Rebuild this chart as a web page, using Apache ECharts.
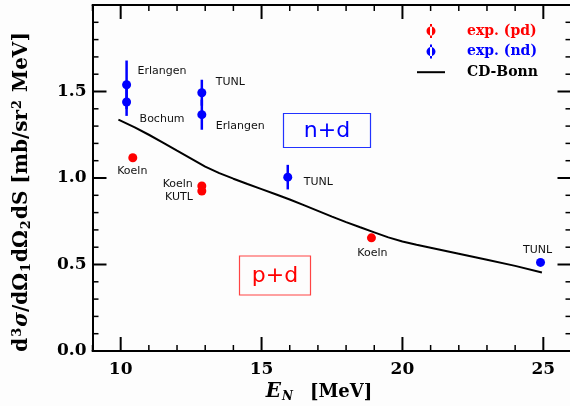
<!DOCTYPE html>
<html><head><meta charset="utf-8">
<script src="https://cdn.jsdelivr.net/npm/echarts@6/dist/echarts.min.js"></script>
<style>html,body{margin:0;padding:0;background:#fdfdfd}#c{width:570px;height:406px}</style>
</head><body><div id="c"></div>
<script>
// ---- data ----
const pdEnergy = [10.43, 12.88, 12.88, 18.90];
const pdXS     = [1.117, 0.954, 0.925, 0.654];
const pdLabels = ['Koeln', 'Koeln', 'KUTL', 'Koeln'];

const ndEnergy = [10.21, 10.21, 12.88, 12.88, 15.93, 24.90];
const ndXS     = [1.539, 1.439, 1.493, 1.366, 1.005, 0.512];
const ndErr    = [0.140, 0.080, 0.075, 0.087, 0.071, 0.0];
const ndLabels = ['Erlangen', 'Bochum', 'TUNL', 'Erlangen', 'TUNL', 'TUNL'];

const cdBonnEnergy = [9.92, 10.5, 11, 11.5, 12, 12.5, 13, 13.5, 14, 14.5, 15, 15.5, 16, 16.5, 17, 17.5, 18, 18.5, 19, 19.5, 20, 20.5, 21, 22, 23, 24, 24.95];
const cdBonnXS     = [1.337, 1.293, 1.250, 1.205, 1.158, 1.112, 1.066, 1.028, 0.996, 0.965, 0.936, 0.906, 0.876, 0.843, 0.810, 0.777, 0.745, 0.715, 0.686, 0.657, 0.633, 0.614, 0.597, 0.562, 0.527, 0.492, 0.454];

// ---- ticks ----
const xTickValues  = [9, 10, 11, 12, 13, 14, 15, 16, 17, 18, 19, 20, 21, 22, 23, 24, 25, 26];
const xMajorTicks  = [10, 15, 20, 25];
const yTickValues  = [0, 0.1, 0.2, 0.3, 0.4, 0.5, 0.6, 0.7, 0.8, 0.9, 1.0, 1.1, 1.2, 1.3, 1.4, 1.5, 1.6, 1.7, 1.8, 1.9, 2.0];
const yMajorTicks  = [0, 0.5, 1.0, 1.5, 2.0];
const yTickLabels  = ['0.0', '0.5', '1.0', '1.5'];
const legendNames  = ['exp. (pd)', 'exp. (nd)', 'CD-Bonn'];

const X_MIN = 9, X_MAX = 26, Y_MIN = 0, Y_MAX = 2;

// ---- label placement (style, not data) ----
const pdLabelPlace = [
  {align:'center', offset:[-0.5, 13.5]},
  {align:'right',  offset:[-9, -2]},
  {align:'right',  offset:[-9, 6.5]},
  {align:'center', offset:[1, 15.5]}
];
const ndLabelPlace = [
  {align:'left',   offset:[11, -14]},
  {align:'left',   offset:[13, 17]},
  {align:'left',   offset:[14, -11]},
  {align:'left',   offset:[14, 11]},
  {align:'left',   offset:[16, 5]},
  {align:'center', offset:[-3, -12]}
];

const RED = '#ff0000', BLUE = '#0000ff';
const labelFont = {fontFamily:'DejaVu Sans', fontSize:11, color:'#111'};
const serif = 'DejaVu Serif';
const MAJOR_LEN = 14, MINOR_LEN = 6;

function pointData(xs, ys, labels, place) {
  return xs.map((x, i) => ({
    value: [x, ys[i]],
    label: Object.assign({show:true, position:'inside', verticalAlign:'middle', formatter: labels[i]}, labelFont, place[i])
  }));
}

const tickLabelStyle = {fontFamily:serif, fontWeight:'bold', fontSize:17, color:'#000'};
function axisLine() { return {show:true, onZero:false, lineStyle:{color:'#000', width:2}}; }
const near = (a, b) => Math.abs(a - b) < 1e-6;
const isMajor = (list, v) => list.some(t => near(t, v)) ? 1 : 0;

function xAxis(pos, withLabels) {
  return {type:'value', position:pos, min:X_MIN, max:X_MAX, interval:1,
    axisLine:axisLine(), axisTick:{show:false}, minorTick:{show:false},
    axisLabel: withLabels ? Object.assign({show:true, margin:10, showMaxLabel:false, showMinLabel:false,
      formatter: v => isMajor(xMajorTicks, v) ? String(v) : ''}, tickLabelStyle) : {show:false},
    splitLine:{show:false}};
}
function yAxis(pos, withLabels) {
  return {type:'value', position:pos, min:Y_MIN, max:Y_MAX, interval:0.5,
    axisLine:axisLine(), axisTick:{show:false}, minorTick:{show:false},
    axisLabel: withLabels ? Object.assign({show:true, margin:6,
      formatter: v => { const i = yMajorTicks.findIndex(t => near(t, v)); return i >= 0 && i < yTickLabels.length ? yTickLabels[i] : ''; }}, tickLabelStyle) : {show:false},
    splitLine:{show:false}, minorSplitLine:{show:false}};
}

const errIcon = 'path://M3.5,0L5.5,0L5.5,14L3.5,14ZM0,7A4.5,4.5,0,1,0,9,7A4.5,4.5,0,1,0,0,7Z';
const lineIcon = 'path://M0,0L28,0L28,2L0,2Z';

const annotations = [
  {type:'rect', x:283.5, y:113.5, shape:{x:0, y:0, width:87, height:34}, style:{fill:'none', stroke:'#2233ff', lineWidth:1.2}},
  {type:'text', x:327, y:131, style:{text:'n+d', fill:BLUE, fontFamily:'DejaVu Sans', fontSize:22, align:'center', verticalAlign:'middle'}},
  {type:'rect', x:239.5, y:256, shape:{x:0, y:0, width:71, height:39}, style:{fill:'none', stroke:'#ff4444', lineWidth:1.2}},
  {type:'text', x:275, y:276, style:{text:'p+d', fill:RED, fontFamily:'DejaVu Sans', fontSize:22, align:'center', verticalAlign:'middle'}},
  {type:'text', x:22, y:192, rotation:Math.PI/2,
   style:{text:'d{sup|3}{i|σ}/dΩ{sub|1}dΩ{sub|2}dS [mb/sr{sup|2} MeV]', fill:'#000', fontFamily:serif, fontWeight:'bold', fontSize:20,
     align:'center', verticalAlign:'middle',
     rich:{
       i:{fontFamily:serif, fontWeight:'bold', fontStyle:'italic', fontSize:20},
       sup:{fontFamily:serif, fontWeight:'bold', fontSize:13, padding:[0,1,9,1]},
       sub:{fontFamily:serif, fontWeight:'bold', fontSize:13, padding:[9,1,0,1]}
     }}},
  {type:'text', x:319, y:392,
   style:{text:'{e|E}{n|N}{g| }[MeV]', fill:'#000', fontFamily:serif, fontWeight:'bold', fontSize:18,
     align:'center', verticalAlign:'middle',
     rich:{e:{fontFamily:serif, fontWeight:'bold', fontStyle:'italic', fontSize:20},
           n:{fontFamily:serif, fontWeight:'bold', fontStyle:'italic', fontSize:12, padding:[10,0,0,1]},
           g:{fontSize:18, padding:[0,6,0,6]}}}}
];

const chart = echarts.init(document.getElementById('c'), null, {renderer:'canvas'});
chart.setOption({
  backgroundColor:'#fdfdfd',
  animation:false,
  grid:{left:92.5, top:5, width:479, height:346, containLabel:false, outerBoundsMode:'none'},
  xAxis: [xAxis('bottom', true), xAxis('top', false)],
  yAxis: [yAxis('left', true), yAxis('right', false)],
  legend:{
    orient:'vertical', left:417, top:24, padding:0, itemWidth:28, itemHeight:14, itemGap:6.6, selectedMode:false,
    data:[
      {name:legendNames[0], icon:errIcon, textStyle:{color:RED}},
      {name:legendNames[1], icon:errIcon, textStyle:{color:BLUE}},
      {name:legendNames[2], icon:lineIcon, textStyle:{color:'#000'}}
    ],
    textStyle:{fontFamily:serif, fontWeight:'bold', fontSize:14, padding:[0,0,0,17]}
  },
  series:[
    {name:legendNames[2], type:'line', xAxisIndex:0, yAxisIndex:0, symbol:'none', smooth:false,
     lineStyle:{color:'#000', width:2}, itemStyle:{color:'#000'},
     data: cdBonnEnergy.map((e, i) => [e, cdBonnXS[i]]), z:1},
    {type:'custom', xAxisIndex:0, yAxisIndex:0, silent:true, z:2,
     data: ndEnergy.map((e, i) => [e, ndXS[i] - ndErr[i], ndXS[i] + ndErr[i]]).filter(d => d[2] > d[1]),
     encode:{x:0, y:[1, 2]},
     renderItem:(params, api) => {
       const lo = api.coord([api.value(0), api.value(1)]);
       const hi = api.coord([api.value(0), api.value(2)]);
       return {type:'line', shape:{x1:lo[0], y1:lo[1], x2:hi[0], y2:hi[1]}, style:{stroke:BLUE, lineWidth:2.5}};
     }},
    {name:legendNames[0], type:'scatter', xAxisIndex:0, yAxisIndex:0, symbol:'circle', symbolSize:9, z:3,
     itemStyle:{color:RED, opacity:1},
     data: pointData(pdEnergy, pdXS, pdLabels, pdLabelPlace)},
    {name:legendNames[1], type:'scatter', xAxisIndex:0, yAxisIndex:0, symbol:'circle', symbolSize:9, z:3,
     itemStyle:{color:BLUE, opacity:1},
     data: pointData(ndEnergy, ndXS, ndLabels, ndLabelPlace)}
  ]
});

// inward tick marks on all four sides, positioned with the axes' own scales (convertToPixel)
function toPx(x, y) { return chart.convertToPixel({gridIndex:0}, [x, y]); }
const tickGraphics = [];
function addTick(p, major, dx, dy) {
  const len = major ? MAJOR_LEN : MINOR_LEN;
  tickGraphics.push({type:'line', silent:true, z:10,
    shape:{x1:p[0], y1:p[1], x2:p[0] + dx * len, y2:p[1] + dy * len},
    style:{stroke:'#000', lineWidth: major ? 2 : 1.5}});
}
xTickValues.forEach(v => {
  const m = isMajor(xMajorTicks, v);
  addTick(toPx(v, Y_MIN), m, 0, -1);
  addTick(toPx(v, Y_MAX), m, 0, 1);
});
yTickValues.forEach(v => {
  const m = isMajor(yMajorTicks, v);
  addTick(toPx(X_MIN, v), m, 1, 0);
  addTick(toPx(X_MAX, v), m, -1, 0);
});
chart.setOption({graphic: annotations.concat(tickGraphics)});
</script>
</body></html>
